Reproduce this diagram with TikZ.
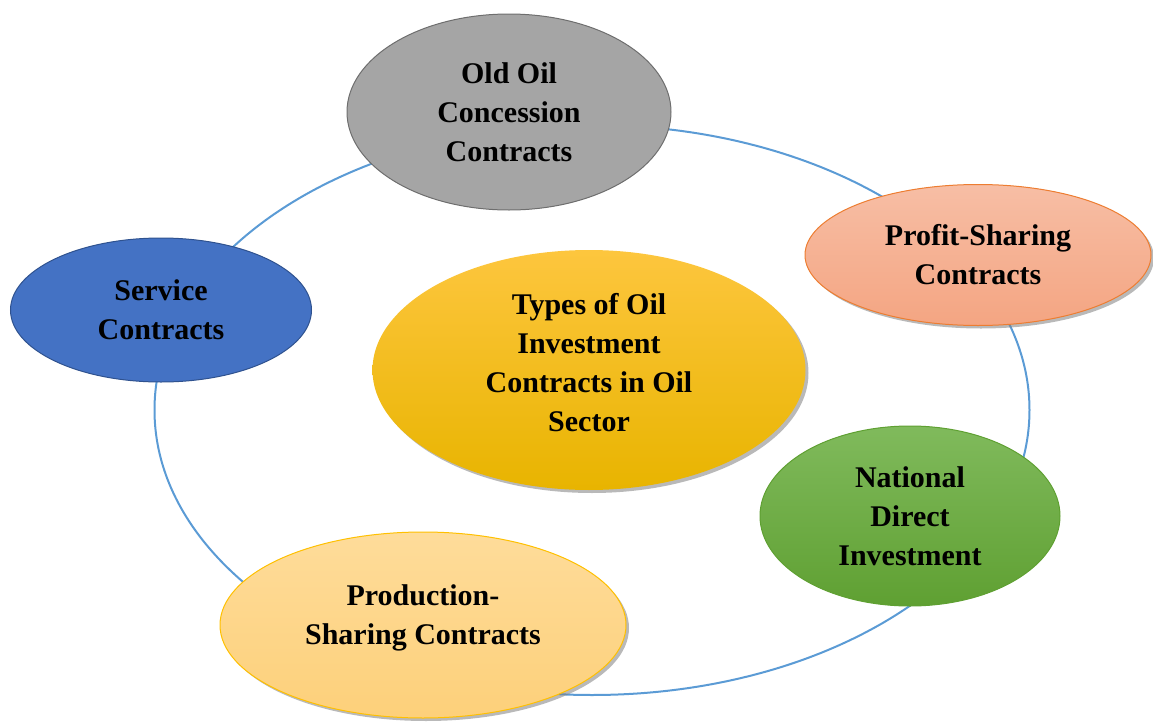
\documentclass[tikz,border=0pt]{standalone}
\usepackage{fontspec}
\setmainfont{Liberation Serif}
\usepackage{xcolor}
\usetikzlibrary{shapes.geometric, shadows}
\definecolor{ringblue}{HTML}{5B9BD5}
\definecolor{grayfill}{HTML}{A5A5A5}
\definecolor{graydraw}{HTML}{6E6E6E}
\definecolor{salmontop}{HTML}{F7BEA5}
\definecolor{salmonbot}{HTML}{F4A582}
\definecolor{salmondraw}{HTML}{ED7D31}
\definecolor{goldtop}{HTML}{FDC63E}
\definecolor{goldbot}{HTML}{E8B400}
\definecolor{greentop}{HTML}{80BA5C}
\definecolor{greenbot}{HTML}{5FA032}
\definecolor{peachtop}{HTML}{FEDC9A}
\definecolor{peachbot}{HTML}{FDD07A}
\definecolor{peachdraw}{HTML}{FFC000}
\definecolor{bluefill}{HTML}{4472C4}
\definecolor{bluedraw}{HTML}{2F528F}
\begin{document}
\begin{tikzpicture}[
  x=0.5pt, y=-0.5pt,
  every node/.style={font=\fontsize{15}{19.5}\selectfont\bfseries, align=center},
  oval/.style={ellipse, inner sep=0pt, line width=0.5pt},
  shade/.style={drop shadow={opacity=0.55, shadow xshift=1.5pt, shadow yshift=-1.5pt}},
  ring/.style={ellipse, draw=ringblue, line width=1pt, minimum width=437.5pt, minimum height=285pt}
]
\useasboundingbox (0,0) rectangle (1153,723);
% background ring
\node[ring] (ring) at (592,410) {};
% outer ovals
\node[oval, fill=grayfill, draw=graydraw, minimum width=162pt, minimum height=98pt]
  (old) at (509,112) {Old Oil\\Concession\\Contracts};
\node[oval, shade, shading=axis, top color=salmontop, bottom color=salmonbot, draw=salmondraw,
  minimum width=173pt, minimum height=70.5pt]
  (profit) at (978,255) {Profit-Sharing\\Contracts};
\node[oval, shading=axis, top color=greentop, bottom color=greenbot, draw=greenbot,
  minimum width=150pt, minimum height=90pt]
  (national) at (910,516) {National\\Direct\\Investment};
\node[oval, shade, shading=axis, top color=peachtop, bottom color=peachbot, draw=peachdraw,
  minimum width=203pt, minimum height=93pt]
  (production) at (423,625) {Production-\\Sharing Contracts\rule[-10.5pt]{0pt}{0pt}};
\node[oval, fill=bluefill, draw=bluedraw, minimum width=150.5pt, minimum height=72pt]
  (service) at (161,310) {Service\\Contracts};
% centre oval
\node[oval, shade, shading=axis, top color=goldtop, bottom color=goldbot,
  minimum width=216.5pt, minimum height=120pt]
  (types) at (589,370) {Types of Oil\\Investment\\Contracts in Oil\\Sector\rule[-8pt]{0pt}{0pt}};
\end{tikzpicture}
\end{document}
